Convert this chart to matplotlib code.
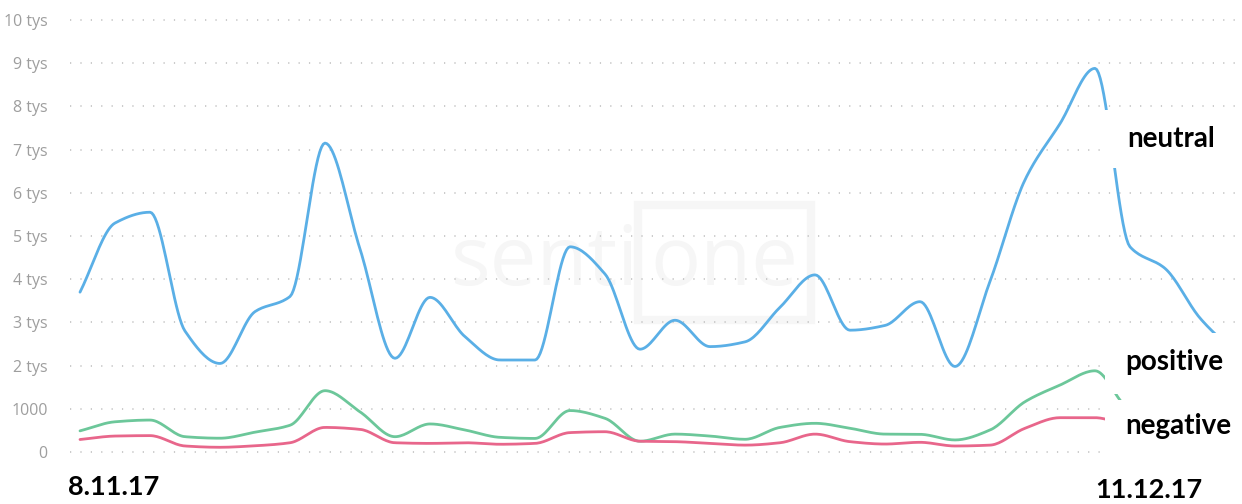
import numpy as np
import matplotlib
matplotlib.use("Agg")
from matplotlib import pyplot as plt
from matplotlib.patches import Rectangle

# daily mentions, 8.11.17 - 11.12.17
days = list(range(34))
neutral = [3700, 5300, 5550, 2800, 2050, 3250, 3600, 7150, 4700, 2170,
           3580, 2670, 2130, 2130, 4750, 4120, 2380, 3050, 2440, 2550,
           3350, 4100, 2820, 2930, 3480, 1980, 3950, 6300, 7600, 8880,
           4750, 4250, 3100, 2300]
positive = [490, 700, 740, 355, 320, 460, 620, 1420, 930, 355,
            650, 510, 340, 315, 960, 780, 250, 415, 370, 295,
            570, 665, 550, 415, 410, 280, 510, 1165, 1550, 1880,
            1000, 900, 750, 600]
negative = [290, 370, 380, 140, 110, 145, 215, 570, 525, 215,
            200, 215, 180, 200, 450, 470, 250, 240, 200, 160,
            215, 415, 240, 185, 225, 140, 160, 550, 795, 795,
            600, 500, 400, 350]

yticks = [0, 1000, 2000, 3000, 4000, 5000, 6000, 7000, 8000, 9000, 10000]
ylabels = ["0", "1000", "2 tys", "3 tys", "4 tys", "5 tys", "6 tys",
           "7 tys", "8 tys", "9 tys", "10 tys"]
series = [("neutral", neutral, "#5aafe6"),
          ("positive", positive, "#6cc79a"),
          ("negative", negative, "#e8668b")]


def monotone(x, y, n=20):
    # monotone cubic (Fritsch-Carlson), like d3.curveMonotoneX
    x = np.asarray(x, float)
    y = np.asarray(y, float)
    h = np.diff(x)
    d = np.diff(y) / h
    m = np.zeros_like(y)
    m[0], m[-1] = d[0], d[-1]
    for i in range(1, len(y) - 1):
        if d[i - 1] * d[i] <= 0:
            m[i] = 0
        else:
            m[i] = 2 / (1 / d[i - 1] + 1 / d[i])
    xs, ys = [], []
    for i in range(len(h)):
        t = np.linspace(0, 1, n, endpoint=False)
        h00 = 2 * t**3 - 3 * t**2 + 1
        h10 = t**3 - 2 * t**2 + t
        h01 = -2 * t**3 + 3 * t**2
        h11 = t**3 - t**2
        xs.append(x[i] + t * h[i])
        ys.append(h00 * y[i] + h10 * h[i] * m[i] + h01 * y[i + 1] + h11 * h[i] * m[i + 1])
    xs.append([x[-1]])
    ys.append([y[-1]])
    return np.concatenate(xs), np.concatenate(ys)


W, H = 1242, 504
fig = plt.figure(figsize=(W / 100, H / 100), dpi=100)
ax = fig.add_axes([70 / W, 39 / H, 1 - 70 / W, 458 / H])
ax.set_xlim(-10 / 35, (W - 80) / 35)
ax.set_ylim(-300, 10300)
for s in ax.spines.values():
    s.set_visible(False)
ax.set_xticks([])
ax.set_yticks(yticks)
ax.set_yticklabels(ylabels, fontsize=11.5, color="#9e9e9e", family="Open Sans")
ax.tick_params(axis="y", length=0, pad=16)
for v in yticks:
    ax.axhline(v, color="#bdbdbd", lw=1.1, ls=(0, (0.8, 6)), zorder=1)

# faint watermark
ax.text(0.405, 0.44, "senti", transform=ax.transAxes, fontsize=60, color="#f6f6f6",
        family="Open Sans", ha="center", va="center", zorder=0)
ax.text(0.558, 0.44, "one", transform=ax.transAxes, fontsize=60, color="#f6f6f6",
        family="Open Sans", ha="center", va="center", zorder=0)
ax.add_patch(Rectangle((0.485, 0.317), 0.147, 0.251, transform=ax.transAxes,
                       fill=False, ec="#f6f6f6", lw=6, zorder=0))

for name, vals, col in series:
    xs, ys = monotone(days, vals)
    ax.plot(xs, ys, color=col, lw=2.0, zorder=3, solid_capstyle="round")

# white label boxes on the right
boxes = [(1105, 110, 168, "neutral", 1127, 139),
         (1105, 333, 394, "positive", 1125, 362),
         (1105, 400, 456, "negative", 1125, 426)]
for x0, y0, y1, txt, tx, ty in boxes:
    fig.patches.append(Rectangle((x0 / W, 1 - y1 / H), (W - x0) / W, (y1 - y0) / H,
                                 transform=fig.transFigure, fc="white", ec="none",
                                 zorder=5))
    fig.text(tx / W, 1 - ty / H, txt, fontsize=20, fontweight="bold", color="black",
             family="Lato", ha="left", va="center", zorder=6)

fig.text(68 / W, 1 - 487 / H, "8.11.17", fontsize=19.5, fontweight="bold",
         family="Lato", ha="left", va="center")
fig.text(1095 / W, 1 - 490 / H, "11.12.17", fontsize=19.5, fontweight="bold",
         family="Lato", ha="left", va="center")

fig.savefig("out.png", dpi=100)
